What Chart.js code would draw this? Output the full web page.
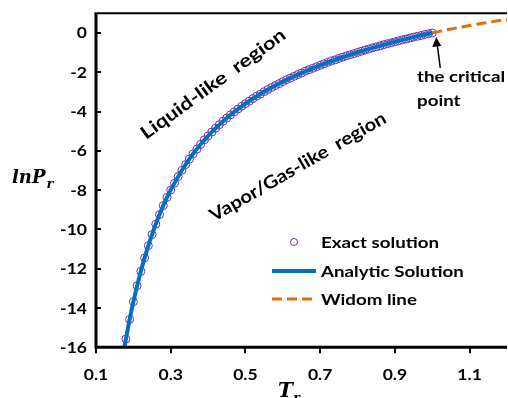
<!DOCTYPE html>
<html>
<head>
<meta charset="utf-8">
<script src="https://cdn.jsdelivr.net/npm/chart.js@4.4.1/dist/chart.umd.min.js"></script>
<style>
  html, body { margin: 0; padding: 0; background: #fff; overflow: hidden; }
  #wrap { width: 512px; height: 398px; }
</style>
</head>
<body>
<div id="wrap"><canvas id="chart" width="512" height="398"></canvas></div>
<script>
// exact solution (circles), Tr step 0.01
const tExact = [
  0.18, 0.19, 0.20, 0.21, 0.22, 0.23, 0.24, 0.25, 0.26, 0.27, 0.28, 0.29,
  0.30, 0.31, 0.32, 0.33, 0.34, 0.35, 0.36, 0.37, 0.38, 0.39,
  0.40, 0.41, 0.42, 0.43, 0.44, 0.45, 0.46, 0.47, 0.48, 0.49,
  0.50, 0.51, 0.52, 0.53, 0.54, 0.55, 0.56, 0.57, 0.58, 0.59,
  0.60, 0.61, 0.62, 0.63, 0.64, 0.65, 0.66, 0.67, 0.68, 0.69,
  0.70, 0.71, 0.72, 0.73, 0.74, 0.75, 0.76, 0.77, 0.78, 0.79,
  0.80, 0.81, 0.82, 0.83, 0.84, 0.85, 0.86, 0.87, 0.88, 0.89,
  0.90, 0.91, 0.92, 0.93, 0.94, 0.95, 0.96, 0.97, 0.98, 0.99,
  1.00
];
const lnPExact = [
  -15.58, -14.58, -13.68, -12.87, -12.13, -11.45, -10.83, -10.26, -9.73, -9.25, -8.79, -8.37,
  -8.00, -7.65, -7.31, -6.99, -6.70, -6.42, -6.15, -5.91, -5.67, -5.44,
  -5.24, -5.04, -4.85, -4.67, -4.49, -4.33, -4.17, -4.01, -3.87, -3.73,
  -3.60, -3.47, -3.34, -3.22, -3.11, -2.99, -2.88, -2.78, -2.68, -2.58,
  -2.48, -2.38, -2.30, -2.21, -2.12, -2.04, -1.95, -1.87, -1.80, -1.72,
  -1.65, -1.57, -1.50, -1.43, -1.37, -1.30, -1.23, -1.17, -1.11, -1.05,
  -0.99, -0.93, -0.87, -0.82, -0.76, -0.71, -0.66, -0.60, -0.55, -0.50,
  -0.45, -0.40, -0.35, -0.31, -0.26, -0.21, -0.17, -0.13, -0.08, -0.04,
  0.00
];

// analytic solution (solid line)
const tAnalytic = [0.176, 0.18, 0.19, 0.20, 0.22, 0.24, 0.26, 0.28, 0.30, 0.33, 0.36, 0.40,
  0.45, 0.50, 0.55, 0.60, 0.65, 0.70, 0.75, 0.80, 0.85, 0.90, 0.95, 1.00];
const lnPAnalytic = [-16.0, -15.58, -14.58, -13.68, -12.13, -10.83, -9.73, -8.79, -8.00, -6.99, -6.15, -5.24,
  -4.33, -3.60, -2.99, -2.48, -2.04, -1.65, -1.30, -0.99, -0.71, -0.45, -0.21, 0.00];

// Widom line (dashed) above the critical point
const tWidom = [1.00, 1.05, 1.10, 1.15, 1.20];
const lnPWidom = [0.00, 0.20, 0.38, 0.54, 0.69];

const xTicks = [0.1, 0.3, 0.5, 0.7, 0.9, 1.1];
const yTicks = [0, -2, -4, -6, -8, -10, -12, -14, -16];

const seriesNames = ['Exact solution', 'Analytic Solution', 'Widom line'];

const PURPLE = '#7030A0';
const BLUE = '#0070C0';
const ORANGE = '#E46C0A';
const FONT = 'Lato, "Liberation Sans", sans-serif';
const WIDE = 1.17; // the original figure is a bit stretched sideways

function pts(xs, ys) {
  return xs.map((x, i) => ({ x: x, y: ys[i] }));
}

function wideText(ctx, text, x, y, align, k) {
  ctx.save();
  ctx.translate(x, y);
  ctx.scale(k || WIDE, 1);
  ctx.textAlign = align || 'left';
  ctx.fillText(text, 0, 0);
  ctx.restore();
}

// frame, ticks, axis titles, notes and legend
const decor = {
  id: 'decor',
  afterDraw(chart) {
    const ctx = chart.ctx;
    const a = chart.chartArea;
    const sx = chart.scales.x;
    const sy = chart.scales.y;
    ctx.save();

    // frame (left, bottom, top)
    ctx.strokeStyle = '#000';
    ctx.lineWidth = 3;
    ctx.beginPath();
    ctx.moveTo(a.left, a.top);
    ctx.lineTo(a.left, a.bottom);
    ctx.lineTo(a.right, a.bottom);
    ctx.stroke();
    ctx.lineWidth = 2;
    ctx.beginPath();
    ctx.moveTo(a.left - 1.5, a.top);
    ctx.lineTo(a.right, a.top);
    ctx.stroke();

    // tick marks + labels
    ctx.lineWidth = 2;
    ctx.beginPath();
    xTicks.forEach(v => {
      const px = Math.round(sx.getPixelForValue(v));
      ctx.moveTo(px, a.bottom);
      ctx.lineTo(px, a.bottom + 6);
    });
    yTicks.forEach(v => {
      const py = Math.round(sy.getPixelForValue(v));
      ctx.moveTo(a.left, py);
      ctx.lineTo(a.left + 5, py);
    });
    ctx.stroke();

    ctx.fillStyle = '#000';
    ctx.textBaseline = 'alphabetic';
    ctx.font = 'bold 15px ' + FONT;
    xTicks.forEach(v => {
      wideText(ctx, v.toFixed(1), sx.getPixelForValue(v), a.bottom + 32.5, 'center');
    });
    yTicks.forEach(v => {
      wideText(ctx, String(v), a.left - 9, sy.getPixelForValue(v) + 5.5, 'right');
    });

    // axis titles
    ctx.textAlign = 'left';
    ctx.font = 'italic bold 18px "DejaVu Serif"';
    ctx.fillText('lnP', 12, 183);
    let w = ctx.measureText('lnP').width;
    ctx.font = 'italic bold 13px "DejaVu Serif"';
    ctx.fillText('r', 12 + w + 1, 188);

    ctx.font = 'italic bold 20px "DejaVu Serif"';
    ctx.fillText('T', 278, 397);
    w = ctx.measureText('T').width;
    ctx.font = 'italic bold 13px "DejaVu Serif"';
    ctx.fillText('r', 278 + w, 402);

    // region labels
    ctx.font = 'bold 18px ' + FONT;
    ctx.save();
    ctx.translate(146, 140);
    ctx.rotate(-36 * Math.PI / 180);
    wideText(ctx, 'Liquid-like  region', 0, 0, 'left', 1.22);
    ctx.restore();

    ctx.save();
    ctx.translate(214, 222);
    ctx.rotate(-30 * Math.PI / 180);
    wideText(ctx, 'Vapor/Gas-like  region', 0, 0, 'left', 1.12);
    ctx.restore();

    // critical point note + arrow
    ctx.font = 'bold 16px ' + FONT;
    wideText(ctx, 'the critical', 417, 82);
    wideText(ctx, 'point', 417, 106);
    const tipX = sx.getPixelForValue(tWidom[0]) + 4;
    const tipY = sy.getPixelForValue(lnPWidom[0]) + 4;
    ctx.lineWidth = 1.5;
    ctx.beginPath();
    ctx.moveTo(tipX + 4, tipY + 31);
    ctx.lineTo(tipX + 1, tipY + 8);
    ctx.stroke();
    ctx.beginPath();
    ctx.moveTo(tipX, tipY);
    ctx.lineTo(tipX - 4, tipY + 10);
    ctx.lineTo(tipX + 5, tipY + 9);
    ctx.closePath();
    ctx.fill();

    // legend
    const lx = 272, lw = 44, tx = 321;
    const rows = [242, 271, 299];
    ctx.strokeStyle = PURPLE;
    ctx.lineWidth = 1;
    ctx.beginPath();
    ctx.arc(lx + lw / 2, rows[0], 3.5, 0, Math.PI * 2);
    ctx.stroke();
    ctx.strokeStyle = BLUE;
    ctx.lineWidth = 4;
    ctx.beginPath();
    ctx.moveTo(lx, rows[1]);
    ctx.lineTo(lx + lw, rows[1]);
    ctx.stroke();
    ctx.strokeStyle = ORANGE;
    ctx.lineWidth = 3;
    ctx.setLineDash([10, 5]);
    ctx.beginPath();
    ctx.moveTo(lx, rows[2]);
    ctx.lineTo(lx + lw, rows[2]);
    ctx.stroke();
    ctx.setLineDash([]);
    ctx.fillStyle = '#000';
    ctx.font = 'bold 16px ' + FONT;
    seriesNames.forEach((n, i) => wideText(ctx, n, tx, rows[i] + 6));

    ctx.restore();
  }
};

function draw() {
  new Chart(document.getElementById('chart'), {
    type: 'scatter',
    data: {
      datasets: [{
        label: seriesNames[1],
        data: pts(tAnalytic, lnPAnalytic),
        showLine: true,
        borderColor: BLUE,
        borderWidth: 4,
        pointRadius: 0,
        cubicInterpolationMode: 'monotone',
        order: 0
      }, {
        label: seriesNames[2],
        data: pts(tWidom, lnPWidom),
        showLine: true,
        borderColor: ORANGE,
        borderWidth: 3,
        borderDash: [10, 5],
        pointRadius: 0,
        cubicInterpolationMode: 'monotone',
        order: 1
      }, {
        label: seriesNames[0],
        data: pts(tExact, lnPExact),
        showLine: false,
        pointStyle: 'circle',
        pointRadius: 4,
        pointBorderWidth: 1,
        pointBorderColor: PURPLE,
        pointBackgroundColor: 'rgba(255,255,255,0)',
        order: 2
      }]
    },
    options: {
      responsive: false,
      animation: false,
      devicePixelRatio: 1,
      layout: { padding: { top: 13.3, right: 1.5, left: 0, bottom: 0 } },
      plugins: { legend: { display: false }, tooltip: { enabled: false } },
      scales: {
        x: {
          type: 'linear',
          min: 0.1,
          max: 1.2,
          afterBuildTicks: s => { s.ticks = xTicks.map(v => ({ value: v })); },
          afterFit: s => { s.height = 50.7; s.paddingLeft = 0; s.paddingRight = 0; },
          grid: { display: false, drawTicks: false },
          border: { display: false },
          ticks: { display: false }
        },
        y: {
          type: 'linear',
          min: -16,
          max: 1,
          afterBuildTicks: s => { s.ticks = yTicks.map(v => ({ value: v })); },
          afterFit: s => { s.width = 96; s.paddingTop = 0; s.paddingBottom = 0; },
          grid: { display: false, drawTicks: false },
          border: { display: false },
          ticks: { display: false }
        }
      }
    },
    plugins: [decor]
  });
}

document.fonts.load('bold 16px Lato').then(draw, draw);
</script>
</body>
</html>
